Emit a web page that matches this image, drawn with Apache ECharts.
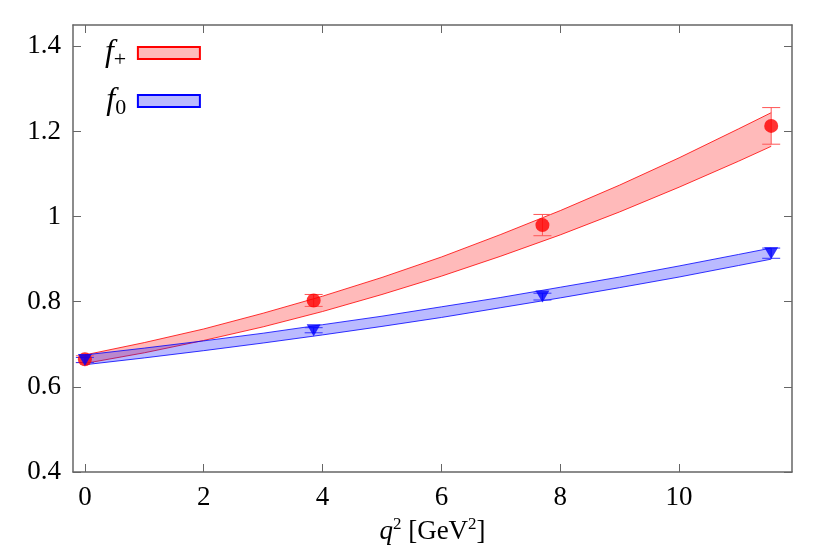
<!DOCTYPE html><html><head><meta charset="utf-8"><script src="https://cdn.jsdelivr.net/npm/echarts@6/dist/echarts.min.js"></script></head><body style="margin:0"><div id="c" style="width:830px;height:554px"></div><script>
var q2 = [0, 3.85, 7.7, 11.55];
var fPlus = [0.665, 0.803, 0.980, 1.213];
var fPlusErr = [0.008, 0.014, 0.025, 0.043];
var fZero = [0.663, 0.733, 0.812, 0.914];
var fZeroErr = [0.006, 0.006, 0.008, 0.012];
var bandX = [0, 1, 2, 3, 4, 5, 6, 7, 8, 9, 10, 11, 11.55];
var fPlusLo = [0.655, 0.680, 0.709, 0.741, 0.777, 0.817, 0.860, 0.907, 0.957, 1.011, 1.069, 1.130, 1.165];
var fPlusHi = [0.675, 0.704, 0.736, 0.773, 0.813, 0.857, 0.905, 0.958, 1.014, 1.074, 1.138, 1.206, 1.244];
var fZeroLo = [0.652, 0.668, 0.685, 0.703, 0.722, 0.742, 0.763, 0.786, 0.809, 0.833, 0.858, 0.885, 0.900];
var fZeroHi = [0.675, 0.691, 0.708, 0.726, 0.746, 0.766, 0.788, 0.810, 0.834, 0.858, 0.884, 0.911, 0.926];
var xTicks = [0, 2, 4, 6, 8, 10];
var yTicks = [0.4, 0.6, 0.8, 1, 1.2, 1.4];
var F = '"Liberation Serif","DejaVu Serif",serif';
function band(lo, hi){
  return function(params, api){
    if (params.dataIndex) return;
    var top = bandX.map(function(x,i){return api.coord([x,hi[i]]);});
    var bot = bandX.map(function(x,i){return api.coord([x,lo[i]]);}).reverse();
    var c = api.visual('color'), bc = params.seriesIndex===0?'#ff0000':'#0000ff';
    return {type:'group',children:[
      {type:'polygon',shape:{points:top.concat(bot)},style:{fill:c}},
      {type:'polyline',shape:{points:top},style:{stroke:bc,lineWidth:0.8,fill:null}},
      {type:'polyline',shape:{points:bot},style:{stroke:bc,lineWidth:0.8,fill:null}}]};
  };
}
function errBar(color){
  return function(params, api){
    var x=api.value(0), lo=api.coord([x,api.value(1)]), hi=api.coord([x,api.value(2)]);
    var s={stroke:color,lineWidth:1};
    return {type:'group',children:[
      {type:'line',shape:{x1:lo[0],y1:lo[1],x2:hi[0],y2:hi[1]},style:s},
      {type:'line',shape:{x1:lo[0]-9,y1:lo[1],x2:lo[0]+9,y2:lo[1]},style:s},
      {type:'line',shape:{x1:hi[0]-9,y1:hi[1],x2:hi[0]+9,y2:hi[1]},style:s}]};
  };
}
var ax = {lineStyle:{color:'#666',width:1.5}};
var lab = {fontFamily:F,fontSize:27,color:'#000',margin:12};
function xa(pos, show){
  return {type:'value',position:pos,min:-0.2,max:11.9,axisLine:Object.assign({onZero:false},ax),splitLine:{show:false},
    axisLabel:Object.assign({show:show,customValues:xTicks},lab),
    axisTick:{inside:true,length:8,lineStyle:{color:'#666'},customValues:xTicks}};
}
function ya(pos, show){
  return {type:'value',position:pos,min:0.4,max:1.45,axisLine:Object.assign({onZero:false},ax),splitLine:{show:false},
    axisLabel:Object.assign({show:show,customValues:yTicks,formatter:function(v){return String(+v.toFixed(1));}},lab),
    axisTick:{inside:true,length:8,lineStyle:{color:'#666'},customValues:yTicks}};
}
var x0 = xa('bottom', true);
x0.name = '{i|q}{s|2} [GeV{s|2}]'; x0.nameLocation='middle'; x0.nameGap=42;
x0.nameTextStyle = {fontFamily:F,fontSize:27,color:'#000',rich:{i:{fontFamily:F,fontStyle:'italic',fontSize:27},s:{fontFamily:F,fontSize:17,padding:[0,0,16,0]}}};
var chart = echarts.init(document.getElementById('c'));
chart.setOption({
  animation:false,
  grid:{left:73,right:38,top:25,bottom:82},
  legend:{left:98,top:32,orient:'vertical',align:'right',icon:'rect',itemWidth:62,itemHeight:12,itemGap:14,
    data:['f+','f0'],
    formatter:function(n){return n==='f+'?'{i|f}{s|+}  ':' {i|f}{s|0}  ';},
    textStyle:{rich:{i:{fontFamily:F,fontStyle:'italic',fontSize:32,color:'#000'},s:{fontFamily:F,fontSize:22,color:'#000',padding:[14,0,0,0]}}}},
  xAxis:[x0, xa('top', false)],
  yAxis:[ya('left', true), ya('right', false)],
  series:[
    {name:'f+',type:'custom',renderItem:band(fPlusLo,fPlusHi),data:[0],itemStyle:{color:'rgba(255,0,0,0.27)',borderColor:'#ff0000',borderWidth:1},z:1},
    {name:'f0',type:'custom',renderItem:band(fZeroLo,fZeroHi),data:[0],itemStyle:{color:'rgba(0,0,255,0.27)',borderColor:'#0000ff',borderWidth:1},z:2},
    {type:'custom',renderItem:errBar('#ff5555'),data:q2.map(function(x,i){return [x,fPlus[i]-fPlusErr[i],fPlus[i]+fPlusErr[i]];}),z:3},
    {type:'custom',renderItem:errBar('#3333ff'),data:q2.map(function(x,i){return [x,fZero[i]-fZeroErr[i],fZero[i]+fZeroErr[i]];}),z:3},
    {type:'scatter',symbol:'circle',symbolSize:14,itemStyle:{color:'#ff0000'},data:q2.map(function(x,i){return [x,fPlus[i]];}),z:4},
    {type:'scatter',symbol:'triangle',symbolRotate:180,symbolSize:[14,12],itemStyle:{color:'#0000ff'},data:q2.map(function(x,i){return [x,fZero[i]];}),z:5}
  ]
});
</script></body></html>
